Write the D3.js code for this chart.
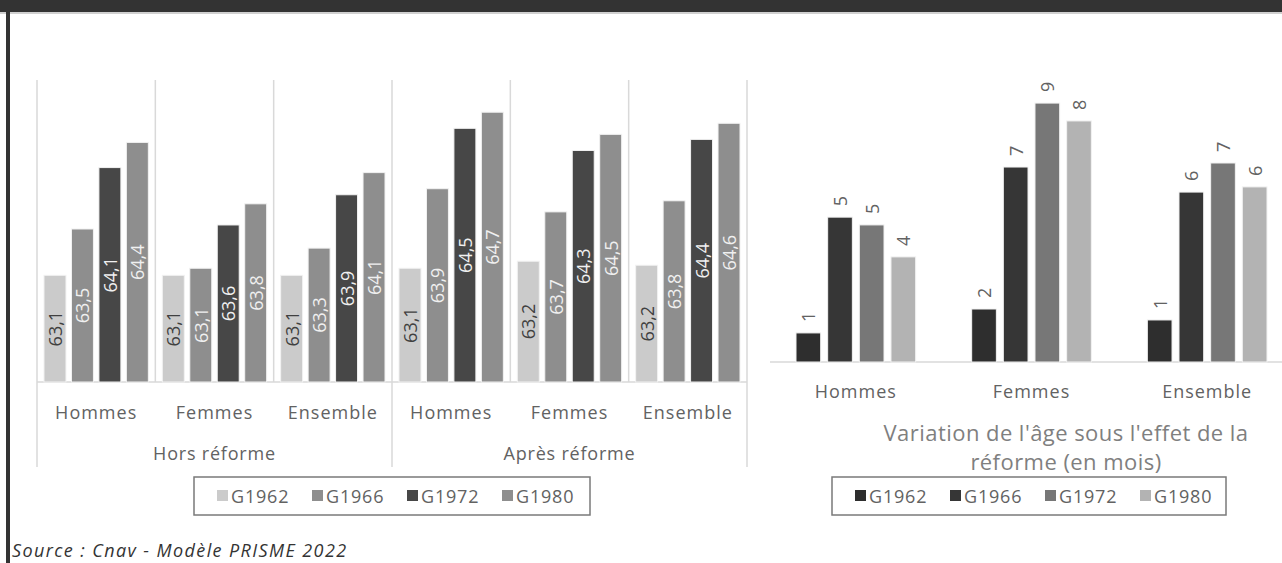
<!DOCTYPE html>
<html>
<head>
<meta charset="utf-8" />
<title>Age de depart - reforme</title>
<script src="https://d3js.org/d3.v7.min.js"></script>
<style>
  body { margin: 0; background: #fff; }
  text { font-family: "Open Sans", sans-serif; }
</style>
</head>
<body>
<div id="chart"></div>
<script>

// data
const categories = ["Hommes", "Femmes", "Ensemble"];
const scenarios = ["Hors réforme", "Après réforme"];
const generations = ["G1962", "G1966", "G1972", "G1980"];

// age moyen (hors réforme x3, après réforme x3)
const ageG1962 = [63.06, 63.06, 63.06, 63.13, 63.20, 63.16];
const ageG1966 = [63.52, 63.13, 63.33, 63.92, 63.69, 63.80];
const ageG1972 = [64.13, 63.56, 63.86, 64.52, 64.30, 64.41];
const ageG1980 = [64.38, 63.77, 64.08, 64.68, 64.46, 64.57];

// variation en mois
const varG1962 = [1.01, 1.84, 1.46];
const varG1966 = [5.03, 6.77, 5.90];
const varG1972 = [4.76, 8.99, 6.91];
const varG1980 = [3.65, 8.37, 6.08];

const rightTitle = ["Variation de l'âge sous l'effet de la", "réforme (en mois)"];
const source = "Source : Cnav - Modèle PRISME 2022";

const W = 1282, H = 563;
const leftColors = ["#cbcbcb", "#8e8e8e", "#474747", "#8e8e8e"];
const leftLabelColors = ["#404040", "#f0f0f0", "#f0f0f0", "#f0f0f0"];
const rightColors = ["#2e2e2e", "#363636", "#777777", "#b3b3b3"];
const grid = "#d9d9d9";
const txt = "#626262";

const svg = d3.select("#chart").append("svg")
    .attr("width", W).attr("height", H);

// frame
svg.append("rect").attr("x", 0).attr("y", 0).attr("width", W).attr("height", 12).attr("fill", "#333");
svg.append("rect").attr("x", 0).attr("y", 12).attr("width", W).attr("height", 2).attr("fill", "#d0d0d0");
svg.append("rect").attr("x", 6).attr("y", 12).attr("width", 4).attr("height", H - 12).attr("fill", "#333");

// ---------- left chart ----------
const slots = [];
scenarios.forEach(s => categories.forEach(c => slots.push(s + "|" + c)));
const leftAges = [ageG1962, ageG1966, ageG1972, ageG1980];

const xL = d3.scaleBand().domain(slots).range([37, 747]).padding(0);
const xLin = d3.scaleBand().domain(generations).range([7, xL.bandwidth() - 7]).paddingInner(0.2);
const yL = d3.scaleLinear().domain([62, 65]).range([382, 80]);

const left = svg.append("g");

// vertical separators
left.selectAll("line.sep")
    .data(slots.concat(["end"]))
    .join("line")
    .attr("class", "sep")
    .attr("x1", (d, i) => i < slots.length ? xL(d) : xL.range()[1])
    .attr("x2", (d, i) => i < slots.length ? xL(d) : xL.range()[1])
    .attr("y1", yL(65))
    .attr("y2", (d, i) => (i % 3 === 0 || i === slots.length) ? 467 : yL(62))
    .attr("stroke", grid).attr("stroke-width", 1.5);

left.append("line")
    .attr("x1", xL.range()[0]).attr("x2", xL.range()[1])
    .attr("y1", yL(62)).attr("y2", yL(62))
    .attr("stroke", grid).attr("stroke-width", 1.5);

const leftBars = [];
slots.forEach((s, i) => generations.forEach((g, j) => {
    leftBars.push({slot: s, gen: g, j: j, v: leftAges[j][i]});
}));

left.selectAll("rect.bar")
    .data(leftBars)
    .join("rect")
    .attr("class", "bar")
    .attr("x", d => xL(d.slot) + xLin(d.gen))
    .attr("width", xLin.bandwidth())
    .attr("y", d => yL(d.v))
    .attr("height", d => yL(62) - yL(d.v))
    .attr("fill", d => leftColors[d.j])
    .attr("stroke", "#f2f2f2").attr("stroke-width", 1);

left.selectAll("text.val")
    .data(leftBars)
    .join("text")
    .attr("class", "val")
    .attr("transform", d => {
        const cx = xL(d.slot) + xLin(d.gen) + xLin.bandwidth() / 2;
        const cy = (yL(d.v) + yL(62)) / 2;
        return `translate(${cx},${cy}) rotate(-90)`;
    })
    .attr("text-anchor", "middle")
    .attr("dominant-baseline", "central")
    .attr("font-size", 18)
    .attr("fill", d => leftLabelColors[d.j])
    .text(d => d.v.toFixed(1).replace(".", ","));

// category axis
const axL = left.append("g")
    .attr("transform", `translate(0,${yL(62)})`)
    .call(d3.axisBottom(xL).tickSize(0).tickPadding(24).tickFormat(d => d.split("|")[1]));
axL.select(".domain").remove();
axL.selectAll("text").attr("font-size", 18).attr("fill", txt)
    .attr("font-family", "Open Sans").attr("letter-spacing", 1);

left.selectAll("text.grp")
    .data(scenarios)
    .join("text")
    .attr("class", "grp")
    .attr("x", (d, i) => (xL(d + "|" + categories[0]) + xL(d + "|" + categories[2]) + xL.bandwidth()) / 2)
    .attr("y", 460)
    .attr("text-anchor", "middle")
    .attr("font-size", 18)
    .attr("letter-spacing", 0.8)
    .attr("fill", txt)
    .text(d => d);

// ---------- right chart ----------
const rightVars = [varG1962, varG1966, varG1972, varG1980];
const xR = d3.scaleBand().domain(categories).range([768, 1295]).padding(0);
const xRin = d3.scaleBand().domain(generations).range([28, xR.bandwidth() - 28]).paddingInner(0.22);
const yR = d3.scaleLinear().domain([0, 10]).range([362, 74]);

const right = svg.append("g");

right.append("line")
    .attr("x1", 770).attr("x2", W)
    .attr("y1", yR(0)).attr("y2", yR(0))
    .attr("stroke", grid).attr("stroke-width", 1.5);

const rightBars = [];
categories.forEach((c, i) => generations.forEach((g, j) => {
    rightBars.push({cat: c, gen: g, j: j, v: rightVars[j][i]});
}));

right.selectAll("rect.bar")
    .data(rightBars)
    .join("rect")
    .attr("class", "bar")
    .attr("x", d => xR(d.cat) + xRin(d.gen))
    .attr("width", xRin.bandwidth())
    .attr("y", d => yR(d.v))
    .attr("height", d => yR(0) - yR(d.v))
    .attr("fill", d => rightColors[d.j])
    .attr("stroke", "#f2f2f2").attr("stroke-width", 1);

right.selectAll("text.val")
    .data(rightBars)
    .join("text")
    .attr("class", "val")
    .attr("transform", d => {
        const cx = xR(d.cat) + xRin(d.gen) + xRin.bandwidth() / 2;
        return `translate(${cx},${yR(d.v) - 11}) rotate(-90)`;
    })
    .attr("text-anchor", "start")
    .attr("dominant-baseline", "central")
    .attr("font-size", 18)
    .attr("fill", txt)
    .text(d => Math.round(d.v));

const axR = right.append("g")
    .attr("transform", `translate(0,${yR(0)})`)
    .call(d3.axisBottom(xR).tickSize(0).tickPadding(23));
axR.select(".domain").remove();
axR.selectAll("text").attr("font-size", 18).attr("fill", txt)
    .attr("font-family", "Open Sans").attr("letter-spacing", 1);

right.selectAll("text.title")
    .data(rightTitle)
    .join("text")
    .attr("class", "title")
    .attr("x", 1066)
    .attr("y", (d, i) => 441 + i * 29)
    .attr("text-anchor", "middle")
    .attr("font-size", 22)
    .attr("letter-spacing", 0.45)
    .attr("fill", "#7f7f7f")
    .text(d => d);

// ---------- legends ----------
function legend(x0, x1, colors) {
    const g = svg.append("g");
    g.append("rect")
        .attr("x", x0).attr("y", 477)
        .attr("width", x1 - x0).attr("height", 38)
        .attr("fill", "none").attr("stroke", "#7a7a7a").attr("stroke-width", 1.5);
    const item = g.selectAll("g.item")
        .data(generations)
        .join("g")
        .attr("class", "item")
        .attr("transform", (d, i) => `translate(${x0 + 23 + i * 95},496)`);
    item.append("rect")
        .attr("x", 0).attr("y", -6).attr("width", 11).attr("height", 11)
        .attr("fill", (d, i) => colors[i]);
    item.append("text")
        .attr("x", 14).attr("y", 0)
        .attr("dominant-baseline", "central")
        .attr("font-size", 18)
        .attr("letter-spacing", 0.8)
        .attr("fill", txt)
        .text(d => d);
}
legend(194, 590, leftColors);
legend(832, 1226, rightColors);

// source
svg.append("text")
    .attr("x", 12).attr("y", 557)
    .attr("font-size", 18)
    .attr("font-style", "italic")
    .attr("letter-spacing", 1.4)
    .attr("fill", "#333")
    .text(source);

</script>
</body>
</html>
